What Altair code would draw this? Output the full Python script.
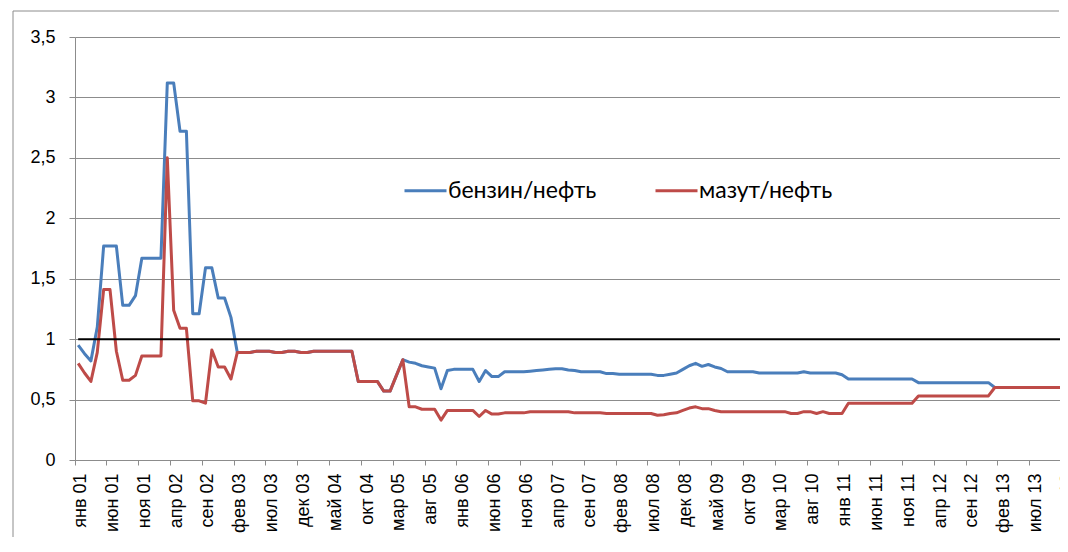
import altair as alt
import pandas as pd

month_abbr = ["янв", "фев", "мар", "апр", "май", "июн", "июл", "авг", "сен", "окт", "ноя", "дек"]
years = ["01", "02", "03", "04", "05", "06", "07", "08", "09", "10", "11", "12", "13"]
months = [f"{m} {y}" for y in years for m in month_abbr]

benzin = [
    0.95, 0.88, 0.82, 1.10, 1.77, 1.77, 1.77, 1.28, 1.28, 1.36,
    1.67, 1.67, 1.67, 1.67, 3.12, 3.12, 2.72, 2.72, 1.21, 1.21,
    1.59, 1.59, 1.34, 1.34, 1.18, 0.89, 0.89, 0.89, 0.90, 0.90,
    0.90, 0.89, 0.89, 0.90, 0.90, 0.89, 0.89, 0.90, 0.90, 0.90,
    0.90, 0.90, 0.90, 0.90, 0.65, 0.65, 0.65, 0.65, 0.57, 0.57,
    0.70, 0.83, 0.81, 0.80, 0.78, 0.77, 0.76, 0.59, 0.74, 0.75,
    0.75, 0.75, 0.75, 0.65, 0.74, 0.69, 0.69, 0.73, 0.73, 0.73,
    0.73, 0.735, 0.74, 0.745, 0.75, 0.755, 0.755, 0.745, 0.74, 0.73,
    0.73, 0.73, 0.73, 0.715, 0.715, 0.71, 0.71, 0.71, 0.71, 0.71,
    0.71, 0.70, 0.70, 0.71, 0.72, 0.75, 0.78, 0.80, 0.775, 0.79,
    0.77, 0.757, 0.73, 0.73, 0.73, 0.73, 0.73, 0.72, 0.72, 0.72,
    0.72, 0.72, 0.72, 0.72, 0.73, 0.72, 0.72, 0.72, 0.72, 0.72,
    0.705, 0.67, 0.67, 0.67, 0.67, 0.67, 0.67, 0.67, 0.67, 0.67,
    0.67, 0.67, 0.64, 0.64, 0.64, 0.64, 0.64, 0.64, 0.64, 0.64,
    0.64, 0.64, 0.64, 0.64, 0.60, 0.60, 0.60, 0.60, 0.60, 0.60,
    0.60, 0.60, 0.60, 0.60, 0.60, 0.60,
]

mazut = [
    0.80, 0.72, 0.65, 0.89, 1.41, 1.41, 0.90, 0.66, 0.66, 0.70,
    0.86, 0.86, 0.86, 0.86, 2.50, 1.24, 1.09, 1.09, 0.49, 0.49,
    0.47, 0.91, 0.77, 0.77, 0.67, 0.89, 0.89, 0.89, 0.90, 0.90,
    0.90, 0.89, 0.89, 0.90, 0.90, 0.89, 0.89, 0.90, 0.90, 0.90,
    0.90, 0.90, 0.90, 0.90, 0.65, 0.65, 0.65, 0.65, 0.57, 0.57,
    0.70, 0.83, 0.44, 0.44, 0.42, 0.42, 0.42, 0.33, 0.41, 0.41,
    0.41, 0.41, 0.41, 0.36, 0.41, 0.38, 0.38, 0.39, 0.39, 0.39,
    0.39, 0.40, 0.40, 0.40, 0.40, 0.40, 0.40, 0.40, 0.39, 0.39,
    0.39, 0.39, 0.39, 0.385, 0.385, 0.385, 0.385, 0.385, 0.385, 0.385,
    0.385, 0.37, 0.375, 0.385, 0.39, 0.41, 0.43, 0.44, 0.425, 0.425,
    0.41, 0.40, 0.40, 0.40, 0.40, 0.40, 0.40, 0.40, 0.40, 0.40,
    0.40, 0.40, 0.385, 0.385, 0.40, 0.40, 0.385, 0.40, 0.385, 0.385,
    0.385, 0.47, 0.47, 0.47, 0.47, 0.47, 0.47, 0.47, 0.47, 0.47,
    0.47, 0.47, 0.53, 0.53, 0.53, 0.53, 0.53, 0.53, 0.53, 0.53,
    0.53, 0.53, 0.53, 0.53, 0.60, 0.60, 0.60, 0.60, 0.60, 0.60,
    0.60, 0.60, 0.60, 0.60, 0.60, 0.60,
]

series_names = ["бензин/нефть", "мазут/нефть"]
series_colors = ["#4A7EBB", "#BE4B48"]
y_ticks = [0, 0.5, 1, 1.5, 2, 2.5, 3, 3.5]
threshold = [1]

GRAY = "#8C8C8C"
AXIS_FONT = "Liberation Sans"

df_b = pd.DataFrame({"month": months, "series": series_names[0], "value": benzin})
df_m = pd.DataFrame({"month": months, "series": series_names[1], "value": mazut})
df_rule = pd.DataFrame({"start": [months[0]], "end": [months[-1]], "y": threshold})

x_scale = alt.Scale(type="band", domain=months, paddingInner=0, paddingOuter=0)
y_scale = alt.Scale(domain=[0, 3.5], nice=False, zero=True)

x_axis = alt.Axis(
    values=months[::5], labelAngle=-90, bandPosition=0, labelOffset=3,
    title=None, grid=False, domainColor=GRAY, tickColor=GRAY, tickSize=5,
    labelPadding=8, labelFont=AXIS_FONT, labelFontSize=18, labelColor="black",
)
y_axis = alt.Axis(
    values=y_ticks, labelExpr="replace(toString(datum.value), '.', ',')",
    title=None, grid=True, gridColor=GRAY, domainColor=GRAY, tickColor=GRAY,
    tickSize=6, labelPadding=14, labelFont=AXIS_FONT, labelFontSize=18,
    labelColor="black",
)

color = alt.Color(
    "series:N",
    scale=alt.Scale(domain=series_names, range=series_colors),
    legend=alt.Legend(
        title=None, orient="none", legendX=328, legendY=131,
        direction="horizontal", symbolType="stroke", symbolSize=1764,
        symbolStrokeWidth=3, labelFont="Lato", labelFontSize=23,
        labelColor="black", columnPadding=52, labelOffset=0, padding=0,
    ),
)

def line_layer(d):
    return alt.Chart(d).mark_line(strokeWidth=3, strokeJoin="round").encode(
        x=alt.X("month:O", scale=x_scale, axis=x_axis),
        y=alt.Y("value:Q", scale=y_scale, axis=y_axis),
        color=color,
    )

# outer chart-area frame (only its left and top edges fall inside the picture)
frame = pd.DataFrame({"b": [0]})
border_left = alt.Chart(frame).mark_rule(color=GRAY, strokeWidth=1).encode(
    x=alt.value(-62), y=alt.value(-26), y2=alt.value(500)
)
border_top = alt.Chart(frame).mark_rule(color=GRAY, strokeWidth=1).encode(
    x=alt.value(-62), x2=alt.value(984), y=alt.value(-26)
)

rule = alt.Chart(df_rule).mark_rule(color="black", strokeWidth=2).encode(
    x=alt.X("start:O", scale=x_scale),
    x2="end:O",
    y=alt.Y("y:Q", scale=y_scale),
)

chart = alt.layer(border_left, border_top, line_layer(df_b), line_layer(df_m), rule).properties(
    width=993, height=423,
    autosize=alt.AutoSizeParams(type="none"),
    padding={"left": 67, "top": 29, "right": -8, "bottom": 78},
    background="white",
).configure_view(strokeWidth=0)

chart.save("out.html", embed_options={"renderer": "svg", "actions": False})
